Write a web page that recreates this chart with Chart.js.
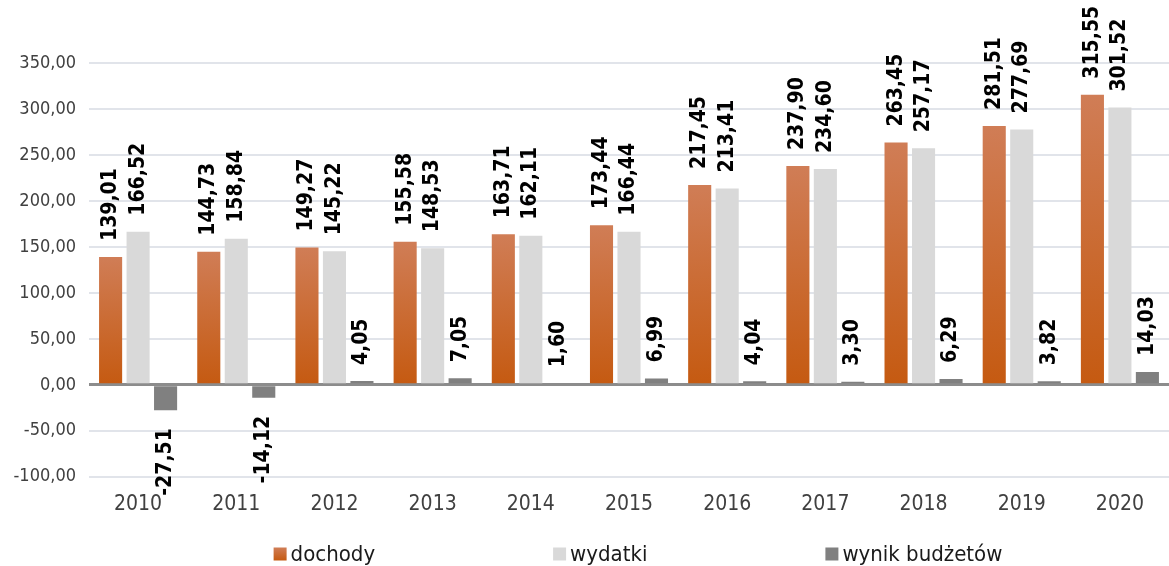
<!DOCTYPE html>
<html>
<head>
<meta charset="utf-8">
<script src="https://cdn.jsdelivr.net/npm/chart.js@4/dist/chart.umd.min.js"></script>
<style>
    html, body { margin: 0; padding: 0; background: #ffffff; }
    #wrap { width: 1169px; height: 566px; position: relative; }
</style>
</head>
<body>
<div id="wrap"><canvas id="budgetChart"></canvas></div>
<script>
    const years = ['2010', '2011', '2012', '2013', '2014', '2015', '2016', '2017', '2018', '2019', '2020'];
    const dochody = [139.01, 144.73, 149.27, 155.58, 163.71, 173.44, 217.45, 237.90, 263.45, 281.51, 315.55];
    const wydatki = [166.52, 158.84, 145.22, 148.53, 162.11, 166.44, 213.41, 234.60, 257.17, 277.69, 301.52];
    const wynik = [-27.51, -14.12, 4.05, 7.05, 1.60, 6.99, 4.04, 3.30, 6.29, 3.82, 14.03];
    const yTicks = [-100, -50, 0, 50, 100, 150, 200, 250, 300, 350];

    const FONT = "'DejaVu Sans Condensed', 'DejaVu Sans', sans-serif";

    // Polish number format: 2 decimals, comma separator
    function formatValue(value) {
        return value.toFixed(2).replace('.', ',');
    }

    // Orange bars fade from a lighter top to the darker base
    function orangeFill(context) {
        const chart = context.chart;
        if (!chart.chartArea || context.raw === undefined) {
            return '#c55a11';
        }
        const yScale = chart.scales.y;
        const top = yScale.getPixelForValue(context.raw);
        const base = yScale.getPixelForValue(0);
        const gradient = chart.ctx.createLinearGradient(0, top, 0, base);
        gradient.addColorStop(0, '#d07d56');
        gradient.addColorStop(1, '#c55a11');
        return gradient;
    }

    // Vertical value labels above (or below) every bar
    const valueLabels = {
        id: 'valueLabels',
        afterDatasetsDraw(chart) {
            const ctx = chart.ctx;
            ctx.save();
            ctx.font = 'bold 21px ' + FONT;
            ctx.fillStyle = '#000000';
            ctx.textBaseline = 'middle';
            chart.data.datasets.forEach((dataset, i) => {
                const meta = chart.getDatasetMeta(i);
                meta.data.forEach((bar, j) => {
                    const value = dataset.data[j];
                    const text = formatValue(value);
                    ctx.save();
                    if (value >= 0) {
                        ctx.translate(bar.x, bar.y - 16);
                        ctx.rotate(-Math.PI / 2);
                        ctx.textAlign = 'left';
                    } else {
                        ctx.translate(bar.x, bar.y + 18);
                        ctx.rotate(-Math.PI / 2);
                        ctx.textAlign = 'right';
                    }
                    ctx.fillText(text, 0, 0);
                    ctx.restore();
                });
            });
            ctx.restore();
        }
    };

    // Legend row under the axis, spread out wide
    const wideLegend = {
        id: 'wideLegend',
        afterDraw(chart) {
            const ctx = chart.ctx;
            const area = chart.chartArea;
            const box = 13;
            const gap = 4;
            const spacing = 178;
            const y = 554;
            ctx.save();
            ctx.font = '22px ' + FONT;
            ctx.textBaseline = 'middle';
            ctx.textAlign = 'left';
            const items = chart.data.datasets.map(ds => ({
                label: ds.label,
                color: ds.legendColor,
                width: box + gap + ctx.measureText(ds.label).width
            }));
            const total = items.reduce((sum, it) => sum + it.width, 0) + spacing * (items.length - 1);
            let x = (area.left + area.right) / 2 + 9 - total / 2;
            items.forEach((it, idx) => {
                if (idx === 0) {
                    const g = ctx.createLinearGradient(0, y - box / 2, 0, y + box / 2);
                    g.addColorStop(0, '#d07d56');
                    g.addColorStop(1, '#c55a11');
                    ctx.fillStyle = g;
                } else {
                    ctx.fillStyle = it.color;
                }
                ctx.fillRect(x, y - box / 2, box, box);
                ctx.fillStyle = '#1a1a1a';
                ctx.fillText(it.label, x + box + gap, y + 1);
                x += it.width + spacing;
            });
            ctx.restore();
        }
    };

    const chartElement = document.getElementById('budgetChart');
    new Chart(chartElement, {
        type: 'bar',
        data: {
            labels: years,
            datasets: [{
                label: 'dochody',
                data: dochody,
                backgroundColor: orangeFill,
                legendColor: '#c55a11'
            }, {
                label: 'wydatki',
                data: wydatki,
                backgroundColor: '#d9d9d9',
                legendColor: '#d9d9d9'
            }, {
                label: 'wynik budżetów',
                data: wynik,
                backgroundColor: '#808080',
                legendColor: '#808080'
            }]
        },
        options: {
            responsive: true,
            maintainAspectRatio: false,
            animation: false,
            categoryPercentage: 0.84,
            barPercentage: 0.84,
            layout: {
                padding: { top: 63, left: 0, right: 0, bottom: 34 }
            },
            plugins: {
                legend: { display: false },
                tooltip: { enabled: false }
            },
            scales: {
                x: {
                    grid: { display: false, drawTicks: false },
                    border: { display: false },
                    ticks: {
                        padding: 15,
                        color: '#404040',
                        font: { family: FONT, size: 21 }
                    }
                },
                y: {
                    min: -100,
                    max: 350,
                    afterBuildTicks(scale) {
                        scale.ticks = yTicks.map(v => ({ value: v }));
                    },
                    afterFit(scale) {
                        scale.width = 89;
                    },
                    border: { display: false },
                    grid: {
                        drawTicks: false,
                        color: ctx => ctx.tick && ctx.tick.value === 0 ? '#8c8c8c' : '#e1e4ea',
                        lineWidth: ctx => ctx.tick && ctx.tick.value === 0 ? 3 : 2
                    },
                    ticks: {
                        padding: 13,
                        color: '#404040',
                        font: { family: FONT, size: 18 },
                        callback: value => formatValue(value)
                    }
                }
            }
        },
        plugins: [valueLabels, wideLegend]
    });
</script>
</body>
</html>
